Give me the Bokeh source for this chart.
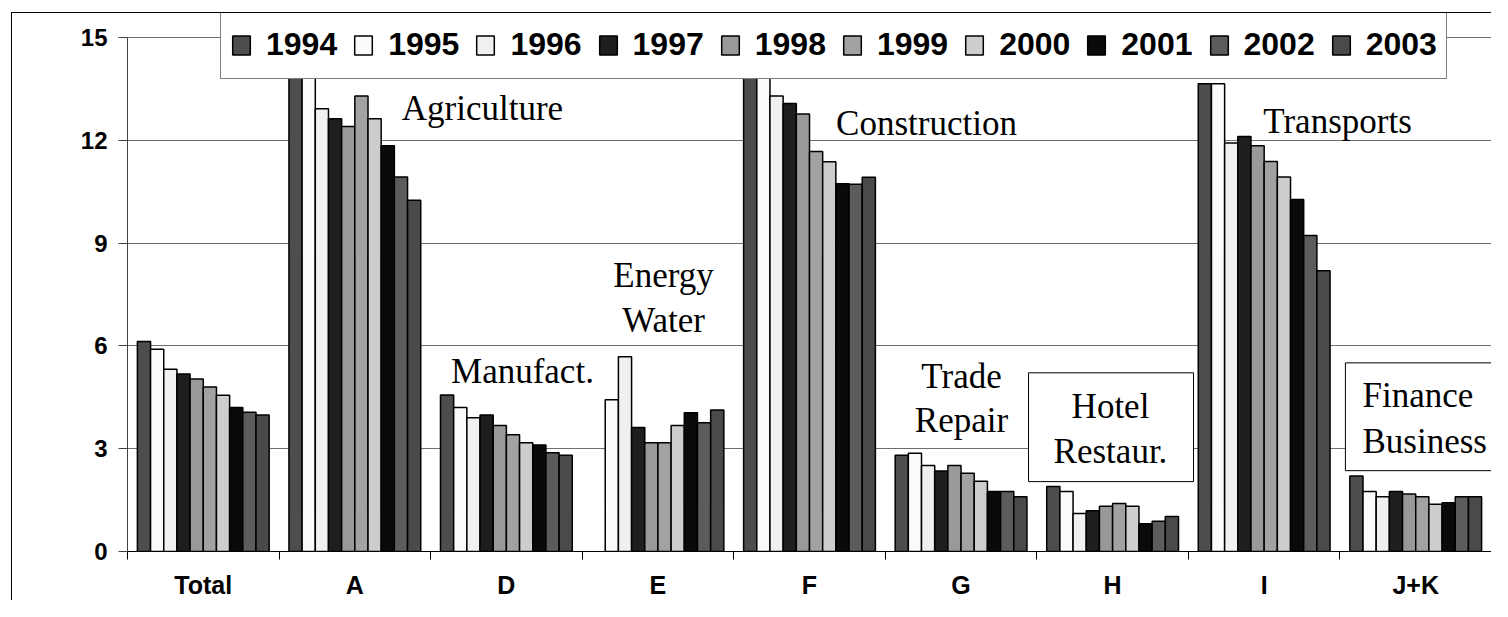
from bokeh.plotting import figure
from bokeh.models import (Range1d, FixedTicker, Legend, LegendItem, BoxAnnotation, Label,
                          ColumnDataSource, Span)
from bokeh.transform import dodge
from bokeh.embed import file_html
from bokeh.resources import INLINE

nan = float("nan")

categories = ["Total", "A", "D", "E", "F", "G", "H", "I", "J+K"]
years = ["1994", "1995", "1996", "1997", "1998", "1999", "2000", "2001", "2002", "2003"]

v1994 = [6.13, 14.6, 4.57, nan, 14.4, 2.81, 1.90, 13.65, 2.20]
v1995 = [5.90, 14.1, 4.20, 4.43, 14.0, 2.87, 1.75, 13.65, 1.75]
v1996 = [5.32, 12.92, 3.90, 5.68, 13.29, 2.51, 1.11, 11.92, 1.60]
v1997 = [5.18, 12.63, 3.98, 3.62, 13.07, 2.35, 1.19, 12.11, 1.75]
v1998 = [5.03, 12.40, 3.68, 3.17, 12.77, 2.51, 1.32, 11.84, 1.68]
v1999 = [4.80, 13.29, 3.41, 3.17, 11.67, 2.28, 1.40, 11.38, 1.60]
v2000 = [4.56, 12.63, 3.17, 3.68, 11.37, 2.05, 1.32, 10.93, 1.38]
v2001 = [4.20, 11.84, 3.11, 4.05, 10.73, 1.75, 0.81, 10.27, 1.42]
v2002 = [4.06, 10.93, 2.88, 3.76, 10.72, 1.75, 0.88, 9.22, 1.60]
v2003 = [3.98, 10.25, 2.81, 4.13, 10.92, 1.60, 1.02, 8.19, 1.60]
series = [v1994, v1995, v1996, v1997, v1998, v1999, v2000, v2001, v2002, v2003]

colors = ["#4d4d4d", "#fbfbfb", "#f0f0f0", "#1e1e1e", "#999999",
          "#a2a2a2", "#cdcdcd", "#0a0a0a", "#5c5c5c", "#4a4a4a"]

y_ticks = [0, 3, 6, 9, 12, 15]
y_max = 15

# sector annotations: (text, x in category units, y in value units, align)
notes = [
    ("Agriculture", 2.342, 12.92, "center"),
    ("Construction", 5.272, 12.49, "center"),
    ("Transports", 7.984, 12.54, "center"),
    ("Manufact.", 2.606, 5.26, "center"),
    ("Energy", 3.537, 8.06, "center"),
    ("Water", 3.537, 6.75, "center"),
    ("Trade", 5.503, 5.12, "center"),
    ("Repair", 5.503, 3.81, "center"),
]
boxed_notes = [
    ((5.945, 7.034, 2.039, 5.214), [("Hotel", 6.486, 4.24, "center"), ("Restaur.", 6.486, 2.93, "center")]),
    ((8.036, 9.2, 2.359, 5.505), [("Finance", 8.149, 4.56, "left"), ("Business", 8.149, 3.22, "left")]),
]

ncat = len(categories)
# frame: plot area plus a strip on top that holds the legend
p = figure(width=1480, height=588,
           x_range=Range1d(0, ncat + 1 / 151.56), y_range=Range1d(0, y_max + 24 / 34.333),
           output_backend="svg", toolbar_location=None,
           min_border_left=115, min_border_right=0, min_border_top=0, min_border_bottom=49,
           outline_line_color=None)
p.margin = (12, 0, 0, 11)
p.styles = {"border-left": "1px solid black", "border-top": "1px solid black"}
p.background_fill_color = "white"
p.border_fill_color = "white"

n = len(years)
w = 1.0 / 11.5
positions = [i + 0.5 for i in range(ncat)]   # category centres on the x scale
renderers = []
for i, (yr, vals, col) in enumerate(zip(years, series, colors)):
    src = ColumnDataSource(dict(cat=categories, pos=positions, val=vals))
    r = p.vbar(x=dodge("pos", (i - (n - 1) / 2) * w, range=p.x_range), top="val", width=w,
               source=src, fill_color=col, line_color="black", line_width=1.5)
    renderers.append(r)

# y axis
p.yaxis.ticker = FixedTicker(ticks=y_ticks)
p.yaxis.major_label_text_font = "Liberation Sans"
p.yaxis.major_label_text_font_style = "bold"
p.yaxis.major_label_text_font_size = "24px"
p.yaxis.major_label_text_color = "black"
p.yaxis.major_label_standoff = 11
p.yaxis.major_tick_out = 9
p.yaxis.major_tick_in = 0
p.yaxis.minor_tick_line_color = None
p.yaxis.axis_line_color = "#404040"
p.yaxis.major_tick_line_color = "#404040"
p.yaxis.bounds = (0, y_max)
p.ygrid.ticker = FixedTicker(ticks=y_ticks)
p.ygrid.grid_line_color = "#6e6e6e"
p.xgrid.visible = False

# x axis: labels at category centres, tick marks at boundaries
p.xaxis.ticker = FixedTicker(ticks=positions, minor_ticks=list(range(ncat + 1)))
p.xaxis.major_label_overrides = {c: cat for c, cat in zip(positions, categories)}
p.xaxis.bounds = (0, ncat)
p.xaxis.major_tick_in = 0
p.xaxis.major_tick_out = 0
p.xaxis.minor_tick_in = 0
p.xaxis.minor_tick_out = 8
p.xaxis.minor_tick_line_color = "black"
p.xaxis.axis_line_color = "black"
p.xaxis.major_label_standoff = 11
p.xaxis.major_label_text_font = "Liberation Sans"
p.xaxis.major_label_text_font_style = "bold"
p.xaxis.major_label_text_font_size = "25px"
p.xaxis.major_label_text_color = "black"

# right edge of the plot area
p.add_layout(Span(location=ncat, dimension="height", line_color="#808080", line_width=1))

for text, x, y, al in notes:
    p.add_layout(Label(x=x, y=y, text=text, text_font="Liberation Serif", text_font_size="35px",
                       text_align=al, text_baseline="alphabetic", text_color="black"))

for (l, r_, b, t), lines in boxed_notes:
    p.add_layout(BoxAnnotation(left=l, right=r_, bottom=b, top=t, fill_color="white",
                               fill_alpha=1, line_color="black", line_alpha=1, line_width=1))
    for text, x, y, al in lines:
        p.add_layout(Label(x=x, y=y, text=text, text_font="Liberation Serif", text_font_size="35px",
                           text_align=al, text_baseline="alphabetic", text_color="black"))

legend = Legend(items=[LegendItem(label=yr, renderers=[r]) for yr, r in zip(years, renderers)],
                orientation="horizontal", location=(93, 472),
                label_text_font="Liberation Sans", label_text_font_style="bold",
                label_text_font_size="32px", label_text_color="black",
                glyph_width=22, glyph_height=24, label_height=49, label_standoff=14,
                spacing=15, padding=9, margin=0,
                border_line_color="black", border_line_width=1,
                background_fill_color="white", background_fill_alpha=1)
p.add_layout(legend, "center")

open("out.html", "w").write(file_html(p, INLINE))
